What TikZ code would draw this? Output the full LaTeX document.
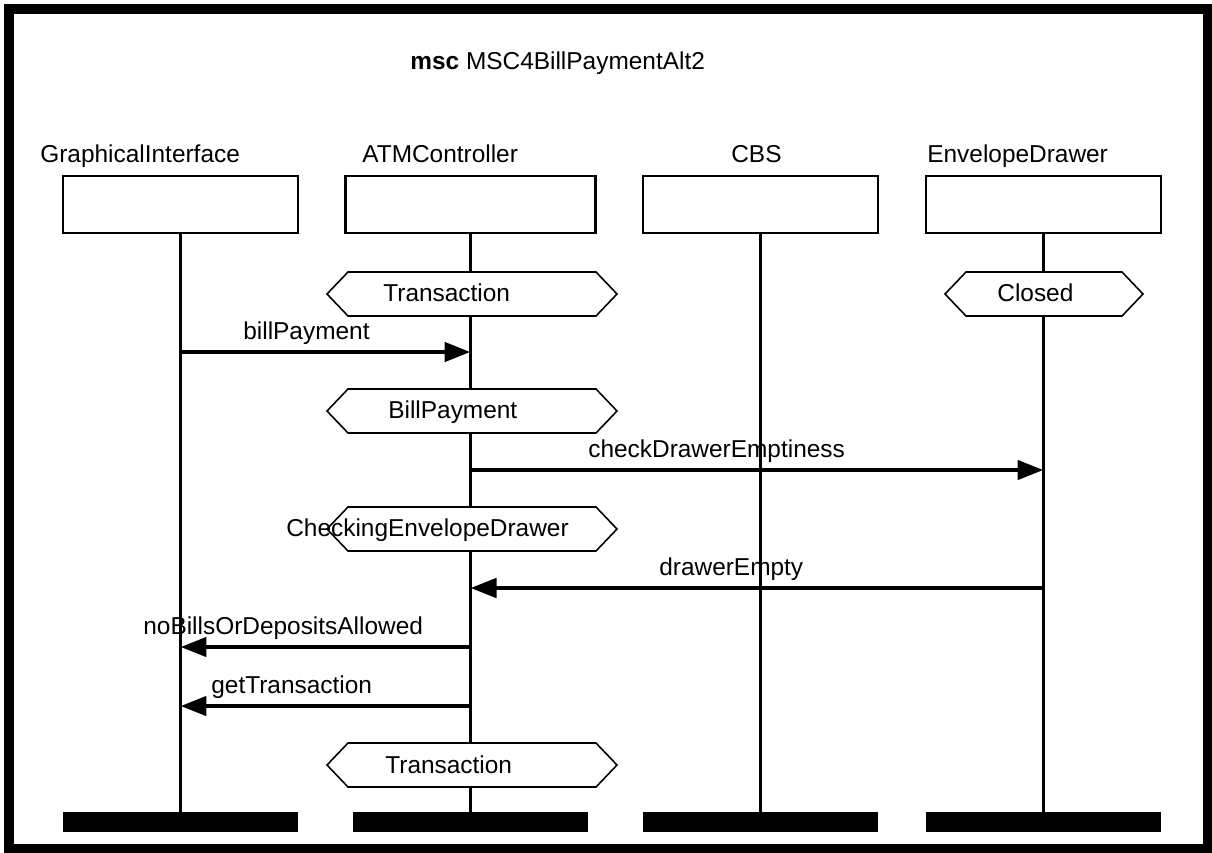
\documentclass[tikz,border=0pt]{standalone}
\usepackage{fontspec}
\setmainfont{Liberation Sans}
\usetikzlibrary{arrows.meta}

% condition hexagon: left tip, right tip, top edge
\newcommand{\condition}[3]{%
  \filldraw[cond] (#1,#3+22) -- (#1+21,#3) -- (#2-21,#3) -- (#2,#3+22)
    -- (#2-21,#3+44) -- (#1+21,#3+44) -- cycle;}

\tikzset{
  instance/.style={draw, line width=1.2pt, minimum width=4.7cm, minimum height=1.14cm, inner sep=0pt},
  endbar/.style={fill=black, minimum width=4.7cm, minimum height=0.4cm, inner sep=0pt},
  lifeline/.style={line width=1.4pt},
  msg/.style={line width=2.6pt, -{Triangle[length=0.52cm, width=0.38cm]}},
  cond/.style={draw=black, fill=white, line width=0.9pt},
  txt/.style={anchor=base west, inner sep=0pt}
}

\begin{document}
\begin{tikzpicture}[x=0.02cm, y=-0.02cm, font=\fontsize{13.9}{16}\selectfont]
	\useasboundingbox (0,0) rectangle (1212,852);
	\draw[line width=0.2cm] (9,9) rectangle (1207.5,848.5);
	
	\node[txt] (title) at (410,69) {\textbf{msc} MSC4BillPaymentAlt2};
	
	% instances
	\node[instance] (gi) at (180.5,204.5) {};
	\node[instance, minimum width=5cm] (atm) at (470.5,204.5) {};
	\node[instance] (cbs) at (760.5,204.5) {};
	\node[instance] (ed) at (1043.5,204.5) {};
	
	\node[txt] (gi-name) at (40,162) {GraphicalInterface};
	\node[txt] (atm-name) at (362,162) {ATMController};
	\node[txt] (cbs-name) at (731,162) {CBS};
	\node[txt] (ed-name) at (927,162) {EnvelopeDrawer};
	
	\node[endbar] (gi-end) at (180.5,822) {};
	\node[endbar] (atm-end) at (470.5,822) {};
	\node[endbar] (cbs-end) at (760.5,822) {};
	\node[endbar] (ed-end) at (1043.5,822) {};
	
	\foreach \i in {gi, atm, cbs, ed}
		\draw[lifeline] (\i.south) -- (\i-end.north);
	
	% conditions
	\condition{327}{617}{272}
	\condition{945}{1143}{272}
	\condition{327}{617}{389}
	\condition{327}{617}{507}
	\condition{327}{617}{743}
	
	\node[txt] (c1) at (383,301) {Transaction};
	\node[txt] (c2) at (997,301) {Closed};
	\node[txt] (c3) at (388,418) {BillPayment};
	\node[txt] (c4) at (286,536) {CheckingEnvelopeDrawer};
	\node[txt] (c5) at (385,773) {Transaction};
	
	% message ends
	\coordinate (m1a) at (gi.center |- 0,352);
	\coordinate (m1b) at (atm.center |- 0,352);
	\coordinate (m2a) at (atm.center |- 0,470);
	\coordinate (m2b) at (ed.center |- 0,470);
	\coordinate (m3a) at (ed.center |- 0,588);
	\coordinate (m3b) at (atm.center |- 0,588);
	\coordinate (m4a) at (atm.center |- 0,647);
	\coordinate (m4b) at (gi.center |- 0,647);
	\coordinate (m5a) at (atm.center |- 0,706);
	\coordinate (m5b) at (gi.center |- 0,706);
	
	\draw[msg] (m1a) -- (m1b);
	\draw[msg] (m2a) -- (m2b);
	\draw[msg] (m3a) -- (m3b);
	\draw[msg] (m4a) -- (m4b);
	\draw[msg] (m5a) -- (m5b);
	
	\node[txt] (m1) at (243,339) {billPayment};
	\node[txt] (m2) at (588,457) {checkDrawerEmptiness};
	\node[txt] (m3) at (659,575) {drawerEmpty};
	\node[txt] (m4) at (143,634) {noBillsOrDepositsAllowed};
	\node[txt] (m5) at (211,693) {getTransaction};
\end{tikzpicture}
\end{document}
